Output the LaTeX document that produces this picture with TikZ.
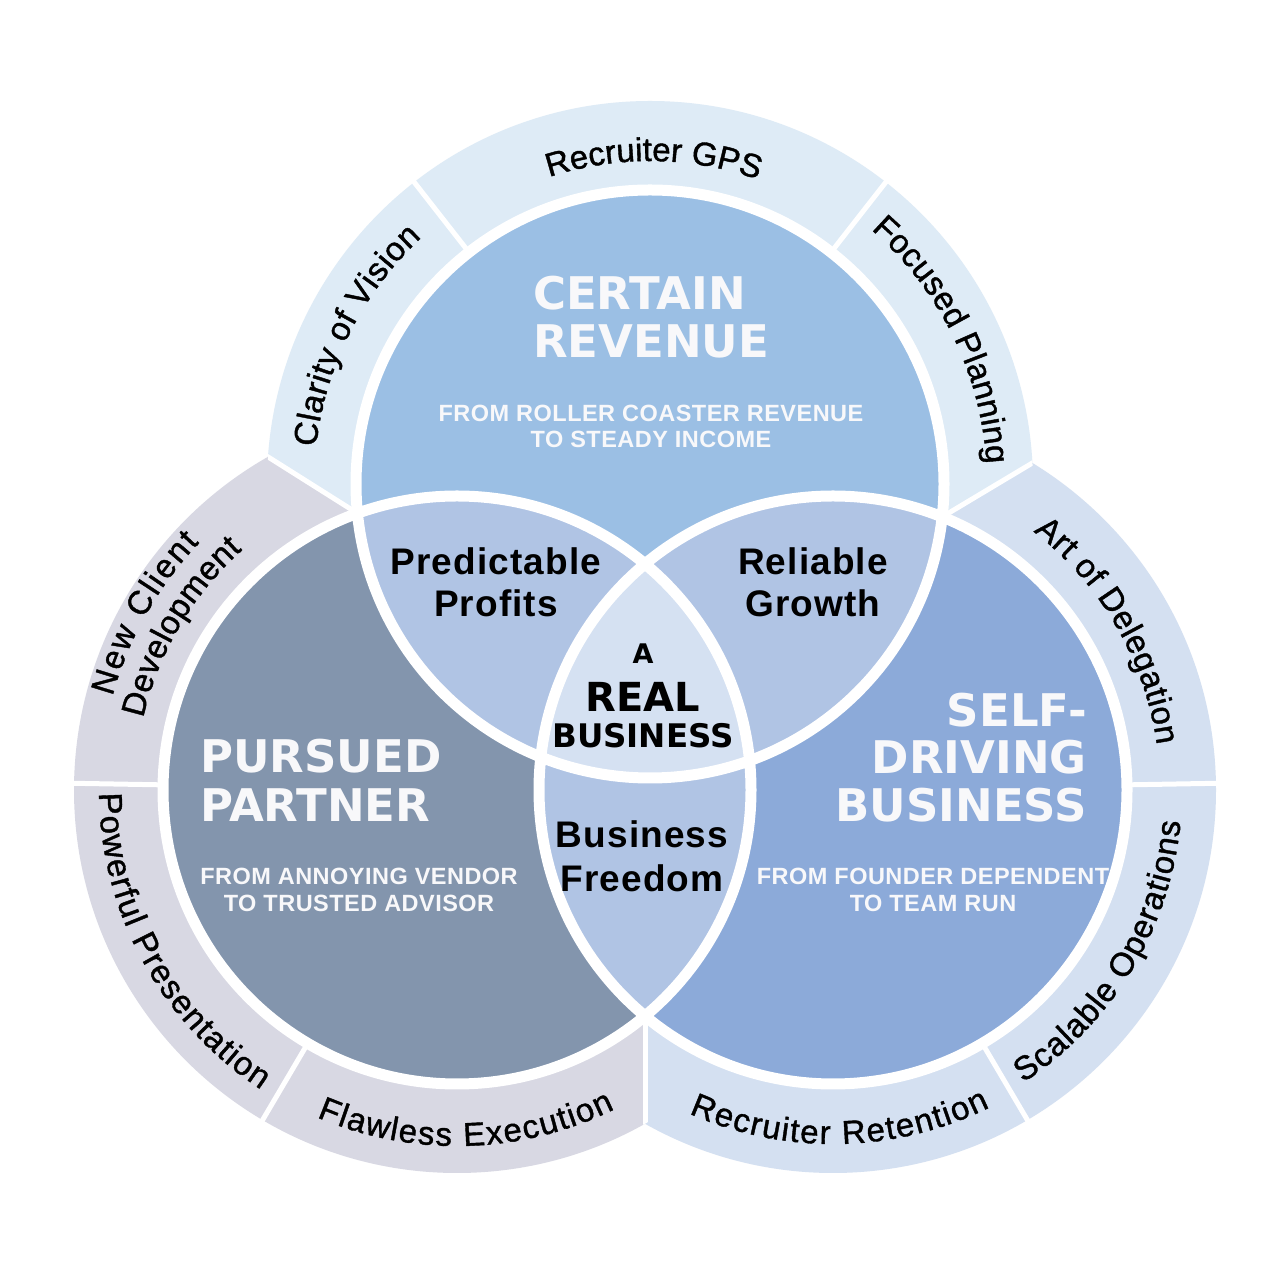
\documentclass[tikz,border=0pt]{standalone}
\usepackage{fontspec}
\setmainfont{Liberation Sans}
\setsansfont{Liberation Sans}
\newfontfamily\heavyfont{DejaVu Sans}
\newfontfamily\lblfont[LetterSpace=3]{Liberation Sans}
\newfontfamily\subfont[LetterSpace=2]{Liberation Sans}
\newfontfamily\ringfam[FakeBold=1.2]{Liberation Sans}
\usetikzlibrary{decorations.text,calc}
\definecolor{ringT}{HTML}{DEEBF6}
\definecolor{ringL}{HTML}{D8D8E3}
\definecolor{ringR}{HTML}{D4E0F1}
\definecolor{circT}{HTML}{9BBFE4}
\definecolor{circL}{HTML}{8395AD}
\definecolor{circR}{HTML}{8CAAD9}
\definecolor{lens}{HTML}{B0C4E4}
\definecolor{core}{HTML}{D5E1F2}
\definecolor{ttwhite}{HTML}{F8F8FA}
\newcommand\ringfont{\ringfam\fontsize{33}{33}\selectfont}
\newcommand\arctext[5]{\path[decorate,decoration={text along path,text align=fit to path,text={|\ringfont|#5}}] ($(#1)+(#2:#4)$) arc[start angle=#2,end angle=#3,radius=#4];}
\def\rin{294}
\def\rout{383}
\begin{document}
\begin{tikzpicture}[x=1pt,y=1pt,
  divider/.style={white,line width=5},
  heavy/.style={text=ttwhite,font=\heavyfont\bfseries\fontsize{45}{45}\selectfont,inner sep=0},
  sub/.style={text=ttwhite,font=\subfont\bfseries\fontsize{23.5}{23.5}\selectfont,inner sep=0,anchor=base},
  lbl/.style={text=black,font=\lblfont\bfseries\fontsize{37}{37}\selectfont,inner sep=0,anchor=base},
  corefont/.style={text=black,font=\heavyfont\bfseries,inner sep=0,anchor=base}]
\useasboundingbox (0,0) rectangle (1280,1280);
\fill[white] (0,0) rectangle (1280,1280);
\coordinate (T) at (650,796);
\coordinate (L) at (457,490);
\coordinate (R) at (833,490);
\coordinate (C) at (645,585.3);
\coordinate (BTL) at (-200.8,1118.8);
\coordinate (BTR) at (1503.2,1098.6);
\coordinate (BLR) at (645,-300);
% outer rings clipped to cells
\begin{scope}
  \clip (C) -- (BTL) -- (-200,1400) -- (1500,1400) -- (BTR) -- cycle;
  \fill[ringT] (T) circle (\rout);
\end{scope}
\begin{scope}
  \clip (C) -- (BTL) -- (-300,-300) -- (BLR) -- cycle;
  \fill[ringL] (L) circle (\rout);
\end{scope}
\begin{scope}
  \clip (C) -- (BLR) -- (1600,-300) -- (BTR) -- cycle;
  \fill[ringR] (R) circle (\rout);
\end{scope}
% dividers between rings
\begin{scope}
  \clip (T) circle (\rout);
  \draw[divider] (C) -- (BTL);
  \draw[divider] (C) -- (BTR);
\end{scope}
\begin{scope}
  \clip (L) circle (\rout);
  \draw[divider] (C) -- (BLR);
\end{scope}
% radial dividers
\draw[divider] ($(T)+(52:280)$) -- ($(T)+(52:\rout+2)$);
\draw[divider] ($(T)+(128:280)$) -- ($(T)+(128:\rout+2)$);
\draw[divider] ($(L)+(179:280)$) -- ($(L)+(179:\rout+2)$);
\draw[divider] ($(L)+(239.5:280)$) -- ($(L)+(239.5:\rout+2)$);
\draw[divider] ($(R)+(1:280)$) -- ($(R)+(1:\rout+2)$);
\draw[divider] ($(R)+(300.5:280)$) -- ($(R)+(300.5:\rout+2)$);
% inner circles
\fill[circT] (T) circle (\rin);
\fill[circL] (L) circle (\rin);
\fill[circR] (R) circle (\rin);
\begin{scope}
  \clip (T) circle (\rin);
  \fill[lens] (L) circle (\rin);
  \fill[lens] (R) circle (\rin);
\end{scope}
\begin{scope}
  \clip (L) circle (\rin);
  \fill[lens] (R) circle (\rin);
\end{scope}
\begin{scope}
  \clip (T) circle (\rin);
  \clip (L) circle (\rin);
  \fill[core] (R) circle (\rin);
\end{scope}
\draw[white,line width=11] (T) circle (\rin) (L) circle (\rin) (R) circle (\rin);
% titles
\node[heavy,anchor=base west] (t1) at (533,970) {CERTAIN};
\node[heavy,anchor=base west] (t2) at (533,922) {REVENUE};
\node[sub] (s1) at (651,858) {FROM ROLLER COASTER REVENUE};
\node[sub] (s2) at (651,832) {TO STEADY INCOME};
\node[heavy,anchor=base west] (p1) at (200,507) {PURSUED};
\node[heavy,anchor=base west] (p2) at (200,458) {PARTNER};
\node[sub] (s3) at (359,395) {FROM ANNOYING VENDOR};
\node[sub] (s4) at (359,368) {TO TRUSTED ADVISOR};
\node[heavy,anchor=base east] (d1) at (1087,553) {SELF-};
\node[heavy,anchor=base east] (d2) at (1087,506) {DRIVING};
\node[heavy,anchor=base east] (d3) at (1087,458) {BUSINESS};
\node[sub] (s5) at (933,395) {FROM FOUNDER DEPENDENT};
\node[sub] (s6) at (933,368) {TO TEAM RUN};
% overlaps
\node[lbl] (l1) at (496,705) {Predictable};
\node[lbl] (l2) at (496,663) {Profits};
\node[lbl] (l3) at (813,705) {Reliable};
\node[lbl] (l4) at (813,663) {Growth};
\node[lbl] (l5) at (642,432) {Business};
\node[lbl] (l6) at (642,388) {Freedom};
\node[corefont,font=\heavyfont\bfseries\fontsize{27}{27}\selectfont] (c1) at (643,616) {A};
\node[corefont,font=\heavyfont\bfseries\fontsize{40}{40}\selectfont] (c2) at (643,568) {REAL};
\node[corefont,font=\heavyfont\bfseries\fontsize{32.5}{32.5}\selectfont] (c3) at (643,532) {BUSINESS};
% ring labels
\arctext{T}{173.7}{132.8}{336}{Clarity of Vision}
\arctext{T}{108.2}{71.6}{323}{Recruiter GPS}
\arctext{T}{49}{3.4}{337}{Focused Planning}
\arctext{L}{164.8}{136.2}{357}{New Client}
\arctext{L}{167.1}{131.8}{322}{Development}
\arctext{L}{180.5}{236.8}{358}{Powerful Presentation}
\arctext{L}{246.8}{296.3}{356}{Flawless Execution}
\arctext{R}{52.2}{7.9}{327}{Art of Delegation}
\arctext{R}{-57}{-5.2}{349}{Scalable Operations}
\arctext{R}{246}{296.3}{354}{Recruiter Retention}
\end{tikzpicture}
\end{document}
